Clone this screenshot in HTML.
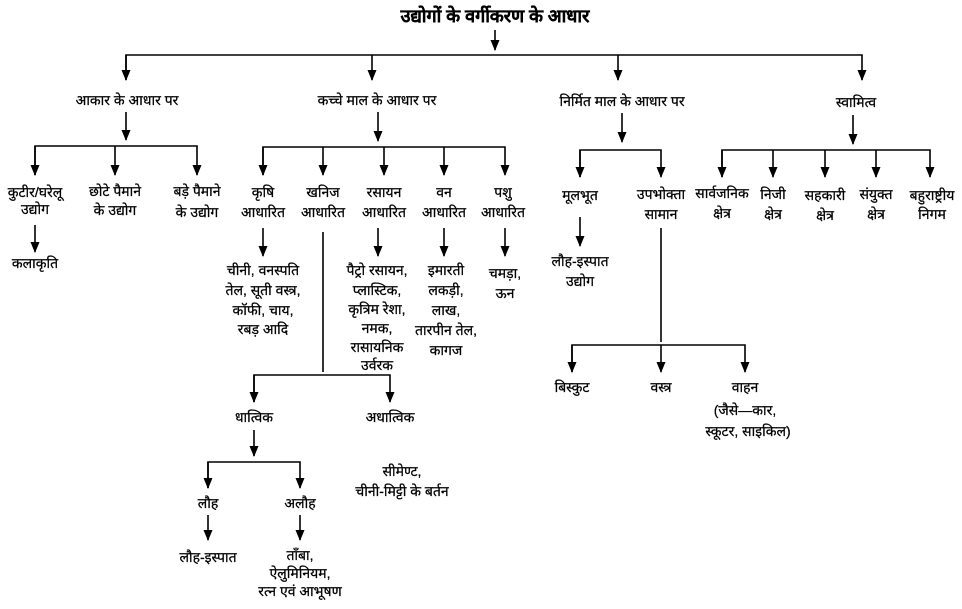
<!DOCTYPE html>
<html><head><meta charset="utf-8"><style>
html,body{margin:0;padding:0;background:#fff;}
svg text{font-family:"Liberation Sans","Noto Sans CJK SC",sans-serif;font-size:14px;fill:#000;text-anchor:middle;stroke:#000;stroke-width:0.25px;}
</style></head><body>
<svg width="962" height="604" viewBox="0 0 962 604" xmlns="http://www.w3.org/2000/svg">
<defs><marker id="a" markerWidth="11" markerHeight="9" refX="10" refY="4.5" orient="auto" markerUnits="userSpaceOnUse"><path d="M0,0 L11,4.5 L0,9 Z" fill="#000"/></marker></defs>
<g stroke="#000" stroke-width="1.6" fill="none">
<line x1="495" y1="30" x2="495" y2="50" marker-end="url(#a)"/>
<polyline points="126,80 126,55 862,55 862,80" marker-end="url(#a)"/>
<line x1="126" y1="55" x2="126" y2="80" marker-end="url(#a)"/>
<line x1="372" y1="55" x2="372" y2="80" marker-end="url(#a)"/>
<line x1="618" y1="55" x2="618" y2="80" marker-end="url(#a)"/>
<line x1="126" y1="112" x2="126" y2="140" marker-end="url(#a)"/>
<polyline points="35,175 35,146 197,146 197,175" marker-end="url(#a)"/>
<line x1="35" y1="146" x2="35" y2="175" marker-end="url(#a)"/>
<line x1="115" y1="146" x2="115" y2="175" marker-end="url(#a)"/>
<line x1="35" y1="225" x2="35" y2="252" marker-end="url(#a)"/>
<line x1="378" y1="112" x2="378" y2="141" marker-end="url(#a)"/>
<polyline points="263,175 263,147 505,147 505,175" marker-end="url(#a)"/>
<line x1="263" y1="147" x2="263" y2="175" marker-end="url(#a)"/>
<line x1="323" y1="147" x2="323" y2="175" marker-end="url(#a)"/>
<line x1="384" y1="147" x2="384" y2="175" marker-end="url(#a)"/>
<line x1="444" y1="147" x2="444" y2="175" marker-end="url(#a)"/>
<line x1="263" y1="228" x2="263" y2="256" marker-end="url(#a)"/>
<line x1="378" y1="228" x2="378" y2="256" marker-end="url(#a)"/>
<line x1="444" y1="228" x2="444" y2="256" marker-end="url(#a)"/>
<line x1="505" y1="228" x2="505" y2="256" marker-end="url(#a)"/>
<line x1="323" y1="232" x2="323" y2="372"/>
<polyline points="254,402 254,375 390,375 390,402" marker-end="url(#a)"/>
<line x1="254" y1="375" x2="254" y2="402" marker-end="url(#a)"/>
<line x1="254" y1="430" x2="254" y2="456" marker-end="url(#a)"/>
<polyline points="208,488 208,462 300,462 300,488" marker-end="url(#a)"/>
<line x1="208" y1="462" x2="208" y2="488" marker-end="url(#a)"/>
<line x1="208" y1="515" x2="208" y2="540" marker-end="url(#a)"/>
<line x1="300" y1="515" x2="300" y2="540" marker-end="url(#a)"/>
<line x1="622" y1="113" x2="622" y2="142" marker-end="url(#a)"/>
<polyline points="580,177 580,150 661,150 661,177" marker-end="url(#a)"/>
<line x1="580" y1="150" x2="580" y2="177" marker-end="url(#a)"/>
<line x1="580" y1="217" x2="580" y2="246" marker-end="url(#a)"/>
<line x1="661" y1="228" x2="661" y2="342"/>
<polyline points="572,372 572,345 745,345 745,372" marker-end="url(#a)"/>
<line x1="572" y1="345" x2="572" y2="372" marker-end="url(#a)"/>
<line x1="661" y1="345" x2="661" y2="372" marker-end="url(#a)"/>
<line x1="853" y1="115" x2="853" y2="144" marker-end="url(#a)"/>
<polyline points="722,177 722,150 930,150 930,177" marker-end="url(#a)"/>
<line x1="722" y1="150" x2="722" y2="177" marker-end="url(#a)"/>
<line x1="773" y1="150" x2="773" y2="177" marker-end="url(#a)"/>
<line x1="825" y1="150" x2="825" y2="177" marker-end="url(#a)"/>
<line x1="876" y1="150" x2="876" y2="177" marker-end="url(#a)"/>
</g>
<text x="495" y="22" style="font-size:18px;font-weight:bold">उद्योगों के वर्गीकरण के आधार</text>
<text x="127" y="105">आकार के आधार पर</text>
<text x="377" y="105">कच्चे माल के आधार पर</text>
<text x="622" y="106">निर्मित माल के आधार पर</text>
<text x="856" y="107">स्वामित्व</text>
<text x="35" y="197">कुटीर/घरेलू</text><text x="35" y="214">उद्योग</text>
<text x="115" y="196">छोटे पैमाने</text><text x="115" y="215">के उद्योग</text>
<text x="197" y="196">बड़े पैमाने</text><text x="197" y="217">के उद्योग</text>
<text x="35" y="268">कलाकृति</text>
<text x="263" y="197">कृषि</text><text x="263" y="217">आधारित</text>
<text x="323" y="197">खनिज</text><text x="323" y="217">आधारित</text>
<text x="384" y="197">रसायन</text><text x="384" y="217">आधारित</text>
<text x="444" y="197">वन</text><text x="444" y="217">आधारित</text>
<text x="503" y="197">पशु</text><text x="503" y="217">आधारित</text>
<text x="263" y="275">चीनी, वनस्पति</text><text x="263" y="295">तेल, सूती वस्त्र,</text><text x="263" y="315">कॉफी, चाय,</text><text x="263" y="334">रबड़ आदि</text>
<text x="377" y="275">पैट्रो रसायन,</text><text x="377" y="295">प्लास्टिक,</text><text x="377" y="314">कृत्रिम रेशा,</text><text x="377" y="333">नमक,</text><text x="377" y="352">रासायनिक</text><text x="377" y="370">उर्वरक</text>
<text x="446" y="275">इमारती</text><text x="446" y="295">लकड़ी,</text><text x="446" y="315">लाख,</text><text x="446" y="335">तारपीन तेल,</text><text x="446" y="355">कागज</text>
<text x="505" y="278">चमड़ा,</text><text x="505" y="298">ऊन</text>
<text x="254" y="422">धात्विक</text><text x="390" y="422">अधात्विक</text>
<text x="402" y="476">सीमेण्ट,</text><text x="402" y="496">चीनी-मिट्टी के बर्तन</text>
<text x="208" y="508">लौह</text><text x="300" y="508">अलौह</text>
<text x="208" y="562">लौह-इस्पात</text>
<text x="300" y="560">ताँबा,</text><text x="300" y="578">ऐलुमिनियम,</text><text x="300" y="596">रत्न एवं आभूषण</text>
<text x="580" y="200">मूलभूत</text>
<text x="580" y="266">लौह-इस्पात</text><text x="580" y="286">उद्योग</text>
<text x="661" y="199">उपभोक्ता</text><text x="661" y="219">सामान</text>
<text x="572" y="392">बिस्कुट</text><text x="661" y="392">वस्त्र</text>
<text x="745" y="392">वाहन</text><text x="745" y="415">(जैसे—कार,</text><text x="748" y="436">स्कूटर, साइकिल)</text>
<text x="722" y="198">सार्वजनिक</text><text x="722" y="218">क्षेत्र</text>
<text x="773" y="199">निजी</text><text x="773" y="219">क्षेत्र</text>
<text x="825" y="200">सहकारी</text><text x="825" y="220">क्षेत्र</text>
<text x="876" y="199">संयुक्त</text><text x="876" y="219">क्षेत्र</text>
<text x="932" y="200">बहुराष्ट्रीय</text><text x="932" y="219">निगम</text>
</svg>
</body></html>
